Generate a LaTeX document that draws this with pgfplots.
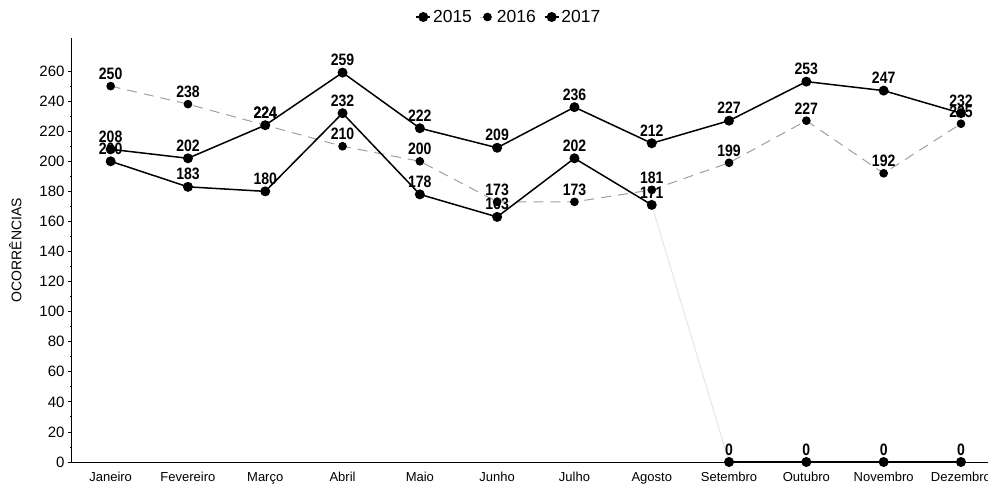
\documentclass[border=0pt]{standalone}
\usepackage{pgfplots}
\pgfplotsset{compat=1.18}
\usepackage{fontspec}
\setmainfont{Liberation Sans}
\newfontfamily\narrowfont[FakeStretch=0.85]{Liberation Sans}
\pgfplotsset{
  lbl/.style={nodes near coords,
    every node near coord/.append style={font=\narrowfont\bfseries\fontsize{16.5}{16.5}\selectfont, text=black, anchor=south, inner sep=0pt, yshift=6pt}},
}
\begin{document}
\begin{tikzpicture}
\begin{axis}[
  at={(0pt,0pt)}, anchor=south west,
  scale only axis, width=916pt, height=424pt,
  xmin=-0.5, xmax=11.35, ymin=0, ymax=282,
  clip=false,
  axis x line*=bottom, axis y line*=left,
  axis line style={line width=1pt, -},
  xtick={0,...,11},
  xticklabels={Janeiro,Fevereiro,Março,Abril,Maio,Junho,Julho,Agosto,Setembro,Outubro,Novembro,Dezembro},
  x tick style={draw=none},
  xticklabel style={font=\fontsize{13}{14}\selectfont, yshift=-3pt},
  ytick={0,20,...,260},
  minor y tick num=1,
  y tick style={black, line width=0.8pt},
  tick align=outside, major tick length=4pt, minor tick length=2pt,
  yticklabel style={font=\fontsize{15}{15}\selectfont},
  /pgf/number format/assume math mode=true,
  ylabel={OCORRÊNCIAS},
  ylabel style={font=\fontsize{14}{14}\selectfont, at={(axis description cs:0,0.5)}, anchor=south, yshift=47pt},
  legend style={at={(axis description cs:0.477,1)}, anchor=center, yshift=21pt, draw=none, fill=none,
    font=\fontsize{17.5}{17.5}\selectfont, /tikz/every even column/.append style={column sep=6pt}},
  legend columns=3,
  legend image code/.code={\draw[mark repeat=2, mark phase=2] plot coordinates {(0pt,0pt)(7pt,0pt)(14pt,0pt)};},
]
\addplot[black, line width=1.5pt, mark=*, mark size=4.2pt, lbl] coordinates {
 (0,208) (1,202) (2,224) (3,259) (4,222) (5,209) (6,236) (7,212) (8,227) (9,253) (10,247) (11,232)};
\addlegendentry{2015}
\addplot[gray!75, dash pattern=on 10pt off 7pt, line width=1pt, mark=*, mark size=3.8pt, mark options={solid, black}, lbl] coordinates {
 (0,250) (1,238) (2,224) (3,210) (4,200) (5,173) (6,173) (7,181) (8,199) (9,227) (10,192) (11,225)};
\addlegendentry{2016}
\addplot[black, line width=1.5pt, mark=*, mark size=4.2pt, lbl] coordinates {
 (0,200) (1,183) (2,180) (3,232) (4,178) (5,163) (6,202) (7,171)};
\addlegendentry{2017}
\addplot[gray!20, line width=1pt, forget plot] coordinates {(7,171) (8,0)};
\addplot[black, line width=1.5pt, mark=*, mark size=4.2pt, lbl, forget plot] coordinates {
 (8,0) (9,0) (10,0) (11,0)};
\end{axis}
\pgfresetboundingbox
\path[use as bounding box] (-72pt,-29pt) rectangle (916pt,462pt);
\end{tikzpicture}
\end{document}
